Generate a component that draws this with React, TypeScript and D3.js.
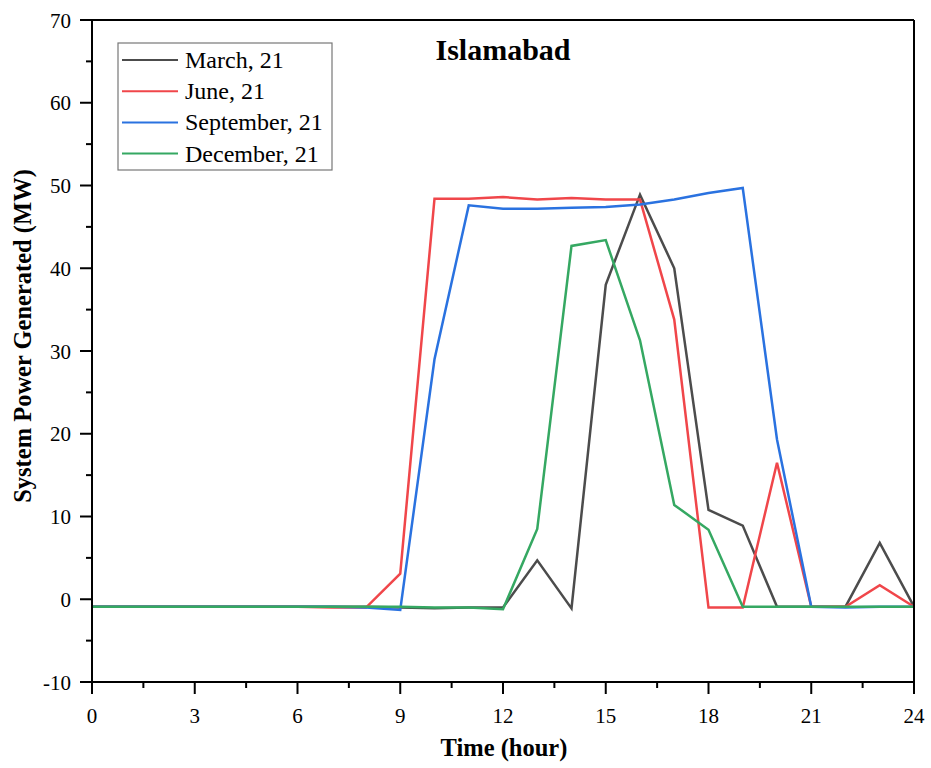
import React from 'react';
import * as d3 from 'd3';

const hours = d3.range(0, 25);
const march = [-0.9, -0.9, -0.9, -0.9, -0.9, -0.9, -0.9, -0.9, -0.9, -1.0, -1.1, -1.0, -1.0, 4.7, -1.1, 38.0, 48.9, 40.0, 10.8, 8.9, -0.9, -0.9, -0.9, 6.8, -0.9];
const june = [-0.9, -0.9, -0.9, -0.9, -0.9, -0.9, -0.9, -1.0, -1.0, 3.1, 48.4, 48.4, 48.6, 48.3, 48.5, 48.3, 48.3, 33.8, -1.0, -1.0, 16.5, -0.9, -0.9, 1.7, -0.9];
const september = [-0.9, -0.9, -0.9, -0.9, -0.9, -0.9, -0.9, -0.9, -1.0, -1.3, 29.0, 47.6, 47.2, 47.2, 47.3, 47.4, 47.7, 48.3, 49.1, 49.7, 19.3, -0.9, -1.0, -0.9, -0.9];
const december = [-0.9, -0.9, -0.9, -0.9, -0.9, -0.9, -0.9, -0.9, -0.9, -0.9, -1.0, -1.0, -1.2, 8.5, 42.7, 43.4, 31.3, 11.4, 8.4, -0.9, -0.9, -0.9, -0.9, -0.9, -0.9];

const seriesNames = ['March, 21', 'June, 21', 'September, 21', 'December, 21'];
const seriesColors = ['#4c4c4c', '#f0464a', '#2a72e0', '#35a862'];
const seriesValues = [march, june, september, december];

const xTicks = [0, 3, 6, 9, 12, 15, 18, 21, 24];
const yTicks = [-10, 0, 10, 20, 30, 40, 50, 60, 70];

const W = 931;
const H = 768;
const margin = { left: 92, right: 17, top: 20, bottom: 86 };
const font = '"Liberation Serif", "Times New Roman", serif';

export default function App() {
  const x = d3.scaleLinear().domain([0, 24]).range([margin.left, W - margin.right]);
  const y = d3.scaleLinear().domain([-10, 70]).range([H - margin.bottom, margin.top]);
  const line = d3.line<number>().x((_, i) => x(hours[i])).y(d => y(d));

  const x0 = x(0), x1 = x(24), y0 = y(-10), y1 = y(70);
  const xMinor = d3.range(1.5, 24, 3);
  const yMinor = d3.range(-5, 70, 10);

  return (
    <svg width={W} height={H} style={{ position: 'absolute', left: 0, top: 0 }}>
      <rect width={W} height={H} fill="#fff" />
      {seriesValues.map((vals, i) => (
        <path key={i} d={line(vals) ?? ''} fill="none" stroke={seriesColors[i]} strokeWidth={2.5} strokeLinejoin="miter" />
      ))}
      {/* frame */}
      <line x1={x0} x2={x1} y1={y1} y2={y1} stroke="#000" strokeWidth={2} />
      <line x1={x1} x2={x1} y1={y1} y2={y0} stroke="#000" strokeWidth={2} />
      <line x1={x0} x2={x1} y1={y0} y2={y0} stroke="#000" strokeWidth={2} />
      <line x1={x0} x2={x0} y1={y1} y2={y0} stroke="#000" strokeWidth={2} />
      {/* x ticks */}
      {xTicks.map(t => (
        <g key={'x' + t}>
          <line x1={x(t)} x2={x(t)} y1={y0} y2={y0 + 12} stroke="#000" strokeWidth={2} />
          <text x={x(t)} y={y0 + 41} textAnchor="middle" fontFamily={font} fontSize={21}>{t}</text>
        </g>
      ))}
      {xMinor.map(t => (
        <line key={'xm' + t} x1={x(t)} x2={x(t)} y1={y0} y2={y0 + 6} stroke="#000" strokeWidth={2} />
      ))}
      {/* y ticks */}
      {yTicks.map(t => (
        <g key={'y' + t}>
          <line x1={x0 - 12} x2={x0} y1={y(t)} y2={y(t)} stroke="#000" strokeWidth={2} />
          <text x={x0 - 21} y={y(t) + 7.5} textAnchor="end" fontFamily={font} fontSize={21}>{t}</text>
        </g>
      ))}
      {yMinor.map(t => (
        <line key={'ym' + t} x1={x0 - 6} x2={x0} y1={y(t)} y2={y(t)} stroke="#000" strokeWidth={2} />
      ))}
      {/* axis titles */}
      <text x={504} y={756} textAnchor="middle" fontFamily={font} fontSize={24.5} fontWeight="bold">Time (hour)</text>
      <text transform="translate(31,336) rotate(-90)" textAnchor="middle" fontFamily={font} fontSize={24.5} fontWeight="bold">System Power Generated (MW)</text>
      {/* title */}
      <text x={503} y={60} textAnchor="middle" fontFamily={font} fontSize={30} fontWeight="bold">Islamabad</text>
      {/* legend */}
      <rect x={118} y={43} width={214} height={127} fill="#fff" stroke="#777" strokeWidth={1.2} />
      {seriesNames.map((n, i) => (
        <g key={n}>
          <line x1={122} x2={178} y1={60 + i * 31.2} y2={60 + i * 31.2} stroke={seriesColors[i]} strokeWidth={2} />
          <text x={185} y={68 + i * 31.2} fontFamily={font} fontSize={24}>{n}</text>
        </g>
      ))}
    </svg>
  );
}
